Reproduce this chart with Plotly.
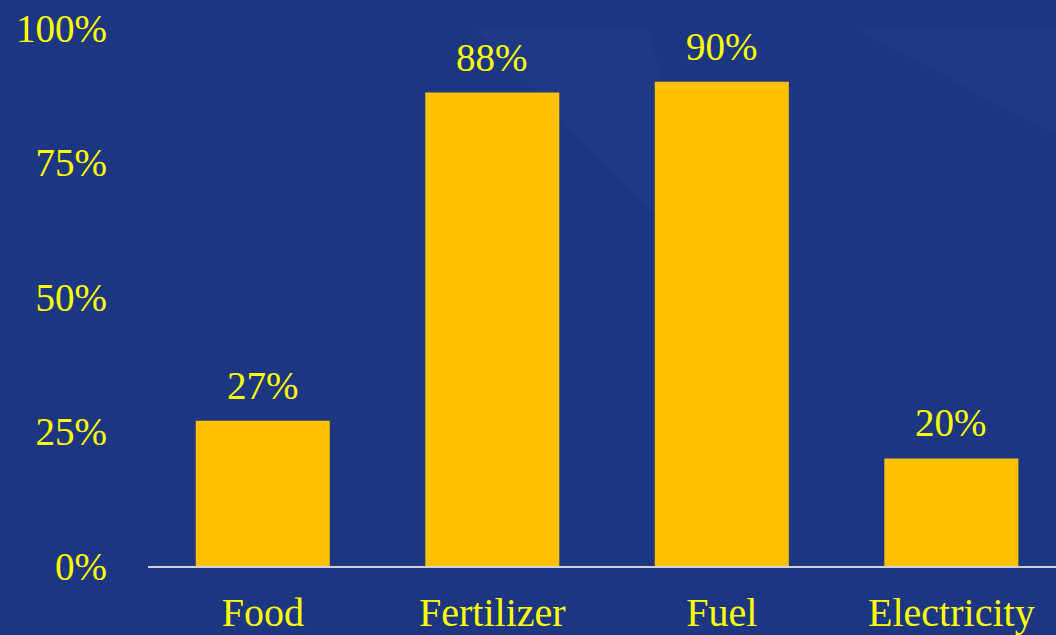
import plotly.graph_objects as go

categories = ["Food", "Fertilizer", "Fuel", "Electricity"]
values = [27, 88, 90, 20]
value_labels = ["27%", "88%", "90%", "20%"]
y_ticks = [0, 25, 50, 75, 100]
y_tick_labels = ["0%", "25%", "50%", "75%", "100%"]

YELLOW = "#FFFF00"
BAR = "#FFC000"
BG = "#1C3682"
FONT = "Liberation Serif, Times New Roman, serif"

fig = go.Figure()
fig.add_trace(go.Bar(
    x=categories, y=values, marker=dict(color=BAR, line=dict(width=0)),
    width=0.584, hoverinfo="skip",
))

for c, v, t in zip(categories, values, value_labels):
    fig.add_annotation(x=c, y=v, text=t, showarrow=False, yanchor="bottom",
                       yshift=12, font=dict(family=FONT, size=39, color=YELLOW))

# subtle diagonal light streaks in background
streaks = [
    "M 0.78 1 L 1 1 L 1 0.80 Z",
    "M 0.36 1 L 0.55 1 L 0.62 0.55 L 0.50 0.75 Z",
]
for p in streaks:
    fig.add_shape(type="path", path=p, xref="paper", yref="paper",
                  fillcolor="rgba(255,255,255,0.02)", line=dict(width=0), layer="below")

fig.update_layout(
    width=1056, height=635,
    margin=dict(l=148, r=0, t=28, b=69, autoexpand=False),
    paper_bgcolor=BG, plot_bgcolor="rgba(0,0,0,0)",
    showlegend=False, bargap=0.416,
    font=dict(family=FONT, color=YELLOW),
    xaxis=dict(
        range=[-0.5, 3.456], showgrid=False, zeroline=False,
        showline=True, linecolor="#D0D0D8", linewidth=2,
        ticks="", tickfont=dict(family=FONT, size=40, color=YELLOW),
        ticklabelstandoff=10, fixedrange=True, automargin=False,
    ),
    yaxis=dict(
        range=[0, 100], tickvals=y_ticks, ticktext=y_tick_labels,
        showgrid=False, zeroline=False, showline=False, ticks="",
        tickfont=dict(family=FONT, size=39, color=YELLOW),
        ticklabelstandoff=40, fixedrange=True, automargin=False,
    ),
)

fig.write_html("out.html")
